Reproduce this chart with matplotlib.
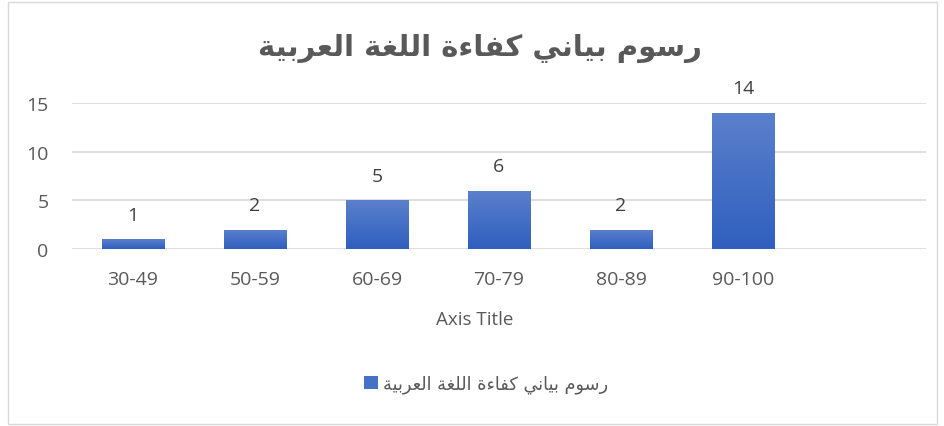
import numpy as np
import matplotlib.pyplot as plt
from matplotlib.patches import Rectangle
from matplotlib.colors import LinearSegmentedColormap

# data
categories = ['30-49', '50-59', '60-69', '70-79', '80-89', '90-100']
counts = [1, 2, 5, 6, 2, 14]
yticks = [0, 5, 10, 15]

# Arabic title in presentation forms (logical order), reversed for display
title_logical = 'ﺭﺳﻮﻡ ﺑﻴﺎﻧﻲ ﻛﻔﺎﺀﺓ ﺍﻟﻠﻐﺔ ﺍﻟﻌﺮﺑﻴﺔ'
title_text = title_logical[::-1]

grey = '#595959'
plt.rcParams['font.family'] = ['Open Sans', 'DejaVu Sans']

fig = plt.figure(figsize=(9.45, 4.27), dpi=100)
ax = fig.add_axes([72/945, (427-250)/427, (926-72)/945, (250-104)/427])

x = np.arange(len(categories))
bars = ax.bar(x, counts, width=0.51, color='#4472C4', zorder=2,
              label=title_text)

# vertical gradient inside each bar
grad = np.linspace(0, 1, 100).reshape(-1, 1)
cmap = LinearSegmentedColormap.from_list('g', ['#2F5FBF', '#5B80CC'])
for b in bars:
    im = ax.imshow(grad, cmap=cmap, aspect='auto', origin='lower',
                   extent=[b.get_x(), b.get_x() + b.get_width(), 0, b.get_height()],
                   zorder=3)
    im.set_clip_path(b)

for xi, v in zip(x, counts):
    ax.annotate(str(v), (xi, v), xytext=(0, 11), textcoords='offset points',
                ha='center', va='bottom', fontsize=14, color='#404040')

ax.set_xlim(-0.5, 6.5)
ax.set_ylim(0, 15)
ax.set_yticks(yticks)
ax.set_xticks(x)
ax.set_xticklabels(categories)
ax.tick_params(axis='both', length=0, labelsize=14, labelcolor=grey)
ax.tick_params(axis='x', pad=15)
ax.tick_params(axis='y', pad=17)
ax.yaxis.grid(True, color='#D9D9D9', linewidth=1.2, zorder=0)
for s in ax.spines.values():
    s.set_visible(False)
ax.set_xlabel('Axis Title', fontsize=13.5, color=grey)
ax.xaxis.set_label_coords((475-72)/854, (250-320)/146)
ax.xaxis.label.set_va('center')

fig.text(480/945, 1 - 48/427, title_text, ha='center', va='center',
         fontsize=21, fontweight='bold', color=grey, family='DejaVu Sans')

leg = fig.legend(handles=[bars], labels=[title_text], loc='center',
                 bbox_to_anchor=(486/945, 1 - 385/427), frameon=False,
                 handlelength=0.8, handleheight=0.8, handletextpad=0.3,
                 prop={'family': 'DejaVu Sans', 'size': 12.8})
for t in leg.get_texts():
    t.set_color(grey)

fig.patches.append(Rectangle((8/945, 2/427), 929/945, 422/427,
                             transform=fig.transFigure, fill=False,
                             edgecolor='#D9D9D9', linewidth=1))

fig.savefig('out.png', dpi=100)
